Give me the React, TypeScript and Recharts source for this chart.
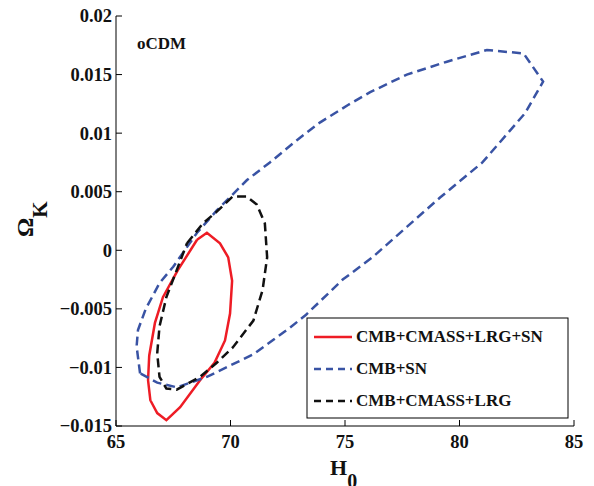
import { ScatterChart, Scatter, XAxis, YAxis } from 'recharts'

const xTicks = [65, 70, 75, 80, 85]
const yTicks = [-0.015, -0.01, -0.005, 0, 0.005, 0.01, 0.015, 0.02]

// CMB+CMASS+LRG+SN (red, solid)
const h0Full = [68.54, 68.97, 69.54, 69.9, 70.07, 69.98, 69.76, 69.3, 68.67, 67.8, 67.2, 66.8, 66.5, 66.4, 66.45, 66.7, 67.05, 67.7, 68.54]
const okFull = [0.0009, 0.0015, 0.0006, -0.0006, -0.0026, -0.0054, -0.0077, -0.0096, -0.0111, -0.0134, -0.0145, -0.0139, -0.0128, -0.0111, -0.009, -0.0062, -0.004, -0.0017, 0.0009]

// CMB+SN (blue, dashed)
const h0Sn = [66.05, 65.9, 65.96, 66.3, 66.9, 67.5, 68.54, 69.4, 70.72, 71.72, 72.9, 73.9, 75.13, 76.1, 77.7, 79.45, 81.2, 82.8, 83.65, 82.86, 81.0, 79.15, 77.7, 76.2, 74.9, 73.3, 72.6, 70.98, 68.97, 67.66, 66.8, 66.05]
const okSn = [-0.0105, -0.0082, -0.0068, -0.005, -0.0028, -0.0014, 0.0015, 0.0034, 0.006, 0.0075, 0.0094, 0.0109, 0.0124, 0.0135, 0.015, 0.0161, 0.0171, 0.0168, 0.0144, 0.0117, 0.0075, 0.0045, 0.002, -0.0006, -0.0025, -0.0055, -0.0066, -0.0089, -0.0108, -0.0117, -0.0113, -0.0105]

// CMB+CMASS+LRG (black, dashed)
const h0Bao = [68.1, 68.8, 69.4, 70.1, 70.7, 71.15, 71.5, 71.6, 71.4, 71.0, 70.1, 69.4, 68.67, 67.65, 67.2, 66.9, 66.8, 66.9, 67.2, 67.65, 68.1]
const okBao = [0.0006, 0.0023, 0.0033, 0.0046, 0.0046, 0.0039, 0.0023, -0.0006, -0.0034, -0.006, -0.0083, -0.0096, -0.0108, -0.0119, -0.0118, -0.0108, -0.0088, -0.0065, -0.004, -0.0017, 0.0006]

const toPoints = (h: number[], ok: number[]) => h.map((v, i) => ({ h: v, ok: ok[i] }))

const series = [
  { name: 'CMB+CMASS+LRG+SN', color: '#ee1c25', dash: undefined as string | undefined, data: toPoints(h0Full, okFull) },
  { name: 'CMB+SN', color: '#3953a4', dash: '9 5', data: toPoints(h0Sn, okSn) },
  { name: 'CMB+CMASS+LRG', color: '#111111', dash: '9 5', data: toPoints(h0Bao, okBao) },
]

const FONT = "'Liberation Serif', 'Times New Roman', serif"

const fmt = (v: number) => {
  const s = String(Math.abs(v))
  return v < 0 ? '\u2212' + s : s
}

function LeftTick({ x, y, payload }: any) {
  return (
    <g>
      <line x1={x + 4} x2={x + 10} y1={y} y2={y} stroke="#000" />
      <text x={x} y={y} dy="0.35em" textAnchor="end" fontFamily={FONT} fontWeight="bold" fontSize={18.5} fill="#111">
        {fmt(payload.value)}
      </text>
    </g>
  )
}

function BottomTick({ x, y, payload }: any) {
  return (
    <g>
      <line x1={x} x2={x} y1={y} y2={y - 6} stroke="#000" />
      <text x={x} y={y + 22} textAnchor="middle" fontFamily={FONT} fontWeight="bold" fontSize={18.5} fill="#111">
        {payload.value}
      </text>
    </g>
  )
}

function TopTick({ x, y }: any) {
  return <line x1={x} x2={x} y1={y} y2={y + 6} stroke="#000" />
}

function RightTick({ x, y }: any) {
  return <line x1={x} x2={x - 6} y1={y} y2={y} stroke="#000" />
}

const NoDot = () => <g />

export default function App() {
  return (
    <div style={{ position: 'absolute', left: 0, top: 0, width: 594, height: 486, background: '#fff' }}>
      <ScatterChart width={594} height={486} margin={{ top: 16, right: 20, bottom: 0, left: 0 }}>
        <XAxis xAxisId="b" dataKey="h" type="number" domain={[65, 85]} ticks={xTicks} interval={0}
          height={60} tickSize={0} tickMargin={0} tickLine={false} axisLine={{ stroke: '#000' }} tick={<BottomTick />} />
        <XAxis xAxisId="t" orientation="top" dataKey="h" type="number" domain={[65, 85]} ticks={xTicks} interval={0}
          height={0} tickSize={0} tickMargin={0} tickLine={false} axisLine={{ stroke: '#000' }} tick={<TopTick />} />
        <YAxis yAxisId="l" dataKey="ok" type="number" domain={[-0.015, 0.02]} ticks={yTicks} interval={0}
          width={116} tickSize={0} tickMargin={4} tickLine={false} axisLine={{ stroke: '#000' }} tick={<LeftTick />} />
        <YAxis yAxisId="r" orientation="right" dataKey="ok" type="number" domain={[-0.015, 0.02]} ticks={yTicks} interval={0}
          width={0} tickSize={0} tickMargin={0} tickLine={false} axisLine={{ stroke: '#444', strokeWidth: 2 }} tick={<RightTick />} />
        {series.map((s) => (
          <Scatter
            key={s.name}
            name={s.name}
            xAxisId="b"
            yAxisId="l"
            data={s.data}
            fill={s.color}
            line={{ stroke: s.color, strokeWidth: 2.5, strokeDasharray: s.dash }}
            lineType="joint"
            shape={NoDot}
            isAnimationActive={false}
          />
        ))}
      </ScatterChart>
      <svg width={594} height={486} style={{ position: 'absolute', left: 0, top: 0, pointerEvents: 'none' }}>
        <text x={137} y={49} fontFamily={FONT} fontWeight="bold" fontSize={17} fill="#111">oCDM</text>
        <text transform="translate(33,237) rotate(-90)" fontFamily={FONT} fontWeight="bold" fontSize={24} fill="#111">
          Ω<tspan dy={14} fontSize={21}>K</tspan>
        </text>
        <text x={330} y={475} fontFamily={FONT} fontWeight="bold" fontSize={22} fill="#111">
          H<tspan dy={13} fontSize={20}>0</tspan>
        </text>
        <g>
          <rect x={307} y={318} width={261} height={100} fill="#fff" stroke="#000" strokeWidth={1} />
          {series.map((s, i) => {
            const ys = [337, 369, 401][i]
            return (
              <g key={s.name}>
                <line x1={314} x2={352} y1={ys} y2={ys} stroke={s.color} strokeWidth={2.5} strokeDasharray={s.dash ? '7 5' : undefined} />
                <text x={356} y={ys + 5} fontFamily={FONT} fontWeight="bold" fontSize={17} fill="#111">{s.name}</text>
              </g>
            )
          })}
        </g>
      </svg>
    </div>
  )
}
